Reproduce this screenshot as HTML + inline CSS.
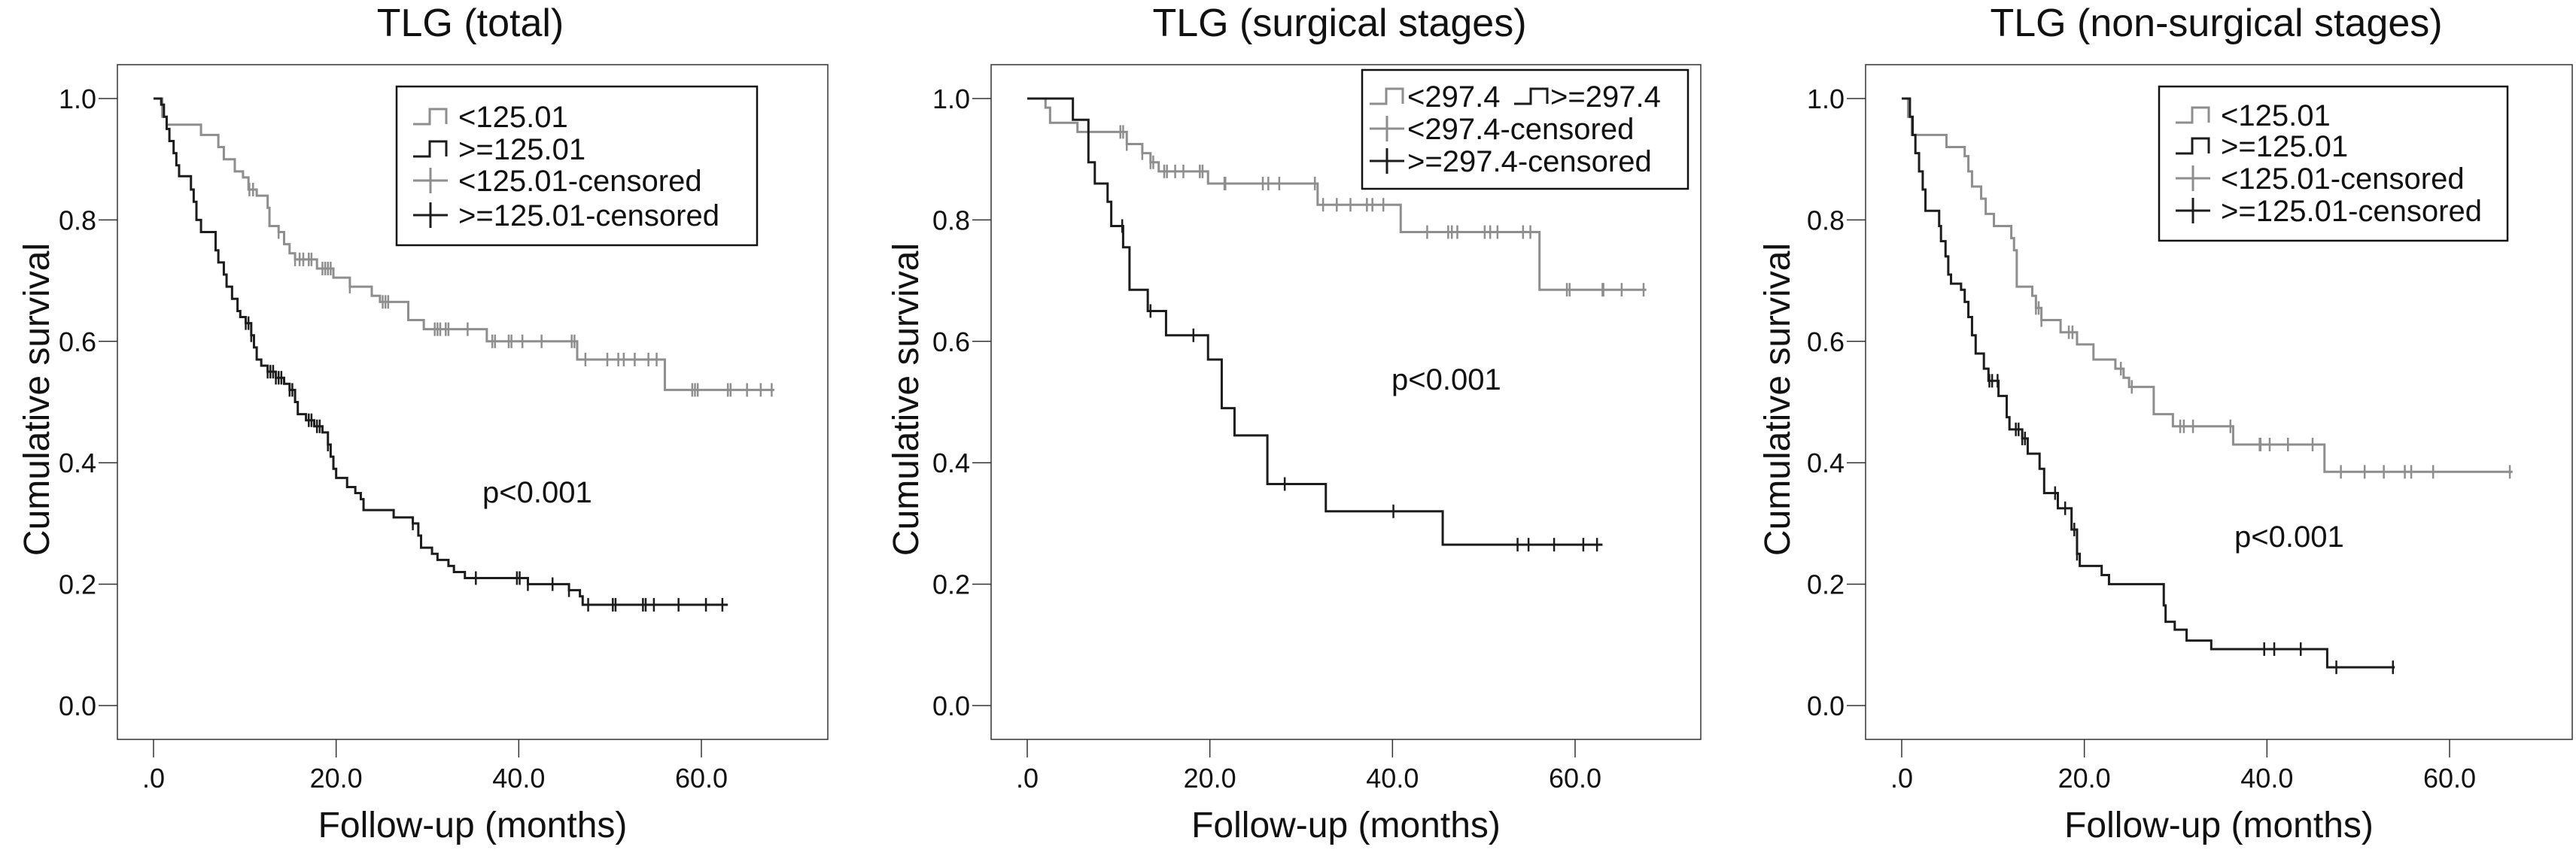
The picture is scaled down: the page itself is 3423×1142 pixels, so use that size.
<!DOCTYPE html>
<html><head><meta charset="utf-8">
<style>
html,body{margin:0;padding:0;background:#fff;}
svg{display:block;font-family:"Liberation Sans",Arial,sans-serif;}
</style></head>
<body>
<svg id="chart" width="3423" height="1142" viewBox="0 0 3423 1142" xmlns="http://www.w3.org/2000/svg"></svg>
<script>
// ---- Panel 1: TLG (total)
const p1LowTimes = [0.96,1.44,5.2,7.1,7.7,8.9,9.8,10.4,11.3,12.5,12.7,13.7,14.3,14.9,15.5,17.9,19.7,21.5,23.9,24.8,27.9,29.6,36.5,46.4,56.0];
const p1LowSurv  = [0.97,0.957,0.94,0.92,0.90,0.88,0.87,0.85,0.84,0.82,0.79,0.78,0.76,0.745,0.735,0.72,0.705,0.69,0.675,0.665,0.635,0.62,0.60,0.57,0.52];
const p1LowEnd = 68.0;
const p1LowCens = [10.5,10.9,13.7,15.5,16.0,16.4,17.0,17.3,18.5,18.8,19.1,19.4,21.5,25.1,25.4,25.7,30.8,31.1,31.4,32.0,32.3,34.4,37.1,37.4,38.9,39.2,40.4,42.5,45.8,46.1,47.3,49.7,50.9,51.5,52.7,54.2,55.1,59.0,59.3,59.6,62.9,63.2,65.0,66.5,67.7];
const p1HighTimes = [0.84,1.14,1.44,1.74,2.2,2.5,2.8,4.1,4.4,4.7,5.2,6.8,7.1,7.7,8.0,8.6,9.2,9.5,10.1,10.7,11.0,11.3,11.8,12.5,13.4,14.3,14.9,15.5,15.8,16.7,17.6,18.5,19.1,19.4,19.7,20.0,21.2,22.1,22.7,23.0,26.3,28.4,29.0,29.3,30.5,31.1,32.3,32.9,34.1,41.0,45.5,46.7,47.0];
const p1HighSurv  = [0.99,0.97,0.95,0.93,0.91,0.89,0.872,0.85,0.83,0.80,0.78,0.75,0.73,0.71,0.69,0.67,0.65,0.64,0.63,0.61,0.59,0.57,0.56,0.55,0.54,0.53,0.52,0.50,0.48,0.47,0.46,0.45,0.43,0.41,0.39,0.375,0.36,0.35,0.34,0.322,0.31,0.30,0.28,0.26,0.25,0.24,0.23,0.22,0.21,0.20,0.19,0.18,0.166];
const p1HighEnd = 62.9;
const p1HighCens = [10.1,10.4,10.7,12.5,12.8,13.1,13.4,13.7,14.0,14.9,15.2,17.0,17.3,17.9,18.2,19.1,28.4,35.3,39.8,40.1,41.0,43.7,45.5,47.6,50.3,50.6,53.6,53.9,54.8,57.5,60.5,62.3];

// ---- Panel 2: TLG (surgical stages)
const p2LowTimes = [2.0,2.5,5.5,10.9,12.6,13.5,14.4,19.8,31.8,40.9,56.1];
const p2LowSurv  = [0.985,0.96,0.945,0.925,0.91,0.895,0.88,0.86,0.825,0.78,0.685];
const p2LowEnd = 67.8;
const p2LowCens = [10.2,10.5,10.9,12.6,13.5,13.8,15.0,15.3,16.2,17.1,18.9,19.2,21.6,21.7,25.8,26.4,27.6,31.5,32.4,33.9,35.4,37.2,37.8,39.0,43.8,46.1,46.5,47.1,50.1,50.7,51.5,54.3,55.1,59.1,59.4,63.0,63.1,65.1,67.5];
const p2HighTimes = [5.0,6.7,7.4,8.8,9.2,10.5,11.2,13.2,15.2,19.8,21.3,22.7,26.3,32.7,45.5];
const p2HighSurv  = [0.965,0.895,0.86,0.83,0.79,0.755,0.685,0.65,0.61,0.57,0.49,0.445,0.365,0.32,0.265];
const p2HighEnd = 63.0;
const p2HighCens = [10.4,13.5,18.2,28.2,40.1,53.7,54.9,57.7,60.9,62.4];

// ---- Panel 3: TLG (non-surgical stages)
const p3LowTimes = [0.7,1.1,4.9,6.9,7.3,7.7,8.7,9.2,10.1,12.0,12.3,12.6,14.3,14.7,15.3,17.4,19.2,21.0,23.4,24.3,24.9,27.6,29.7,36.3,46.3];
const p3LowSurv  = [0.97,0.94,0.92,0.905,0.88,0.855,0.835,0.81,0.79,0.77,0.75,0.69,0.675,0.655,0.635,0.615,0.595,0.57,0.555,0.54,0.525,0.48,0.46,0.43,0.385];
const p3LowEnd = 66.9;
const p3LowCens = [14.7,15.0,15.3,18.3,18.7,24.0,25.2,30.5,30.9,31.9,36.0,39.2,39.3,40.3,42.3,45.0,48.1,50.7,52.8,55.1,55.8,58.2,66.6];
const p3HighTimes = [0.9,1.2,1.5,1.9,2.3,2.6,4.1,4.3,4.8,5.1,5.4,6.5,6.9,7.3,7.7,8.1,9.0,9.5,10.6,11.5,11.8,13.2,13.8,15.1,15.6,17.1,18.6,19.2,19.5,21.9,22.7,28.7,28.9,29.9,31.2,33.9,46.6];
const p3HighSurv  = [0.97,0.94,0.91,0.88,0.85,0.815,0.79,0.765,0.74,0.71,0.695,0.685,0.665,0.64,0.61,0.58,0.555,0.535,0.51,0.475,0.455,0.44,0.415,0.39,0.35,0.325,0.29,0.25,0.23,0.215,0.20,0.165,0.138,0.125,0.107,0.093,0.063];
const p3HighEnd = 54.0;
const p3HighCens = [9.6,9.9,10.5,12.5,12.8,13.2,13.5,16.8,17.9,18.9,19.2,39.7,40.8,43.7,47.6,53.8];

const xTicks = [0,20,40,60];
const xTickLabels = [".0","20.0","40.0","60.0"];
const yTicks = [0,0.2,0.4,0.6,0.8,1.0];
const yTickLabels = ["0.0","0.2","0.4","0.6","0.8","1.0"];

const GRAY = "#8e8e8e", BLACK = "#1c1c1c";
const NS = "http://www.w3.org/2000/svg";
const svg = document.getElementById("chart");

function mk(tag, attrs, parent, text){
  const e = document.createElementNS(NS, tag);
  for (const k in attrs) e.setAttribute(k, attrs[k]);
  if (text !== undefined) e.textContent = text;
  (parent||svg).appendChild(e);
  return e;
}

const panels = [
  {key:"total", title:"TLG (total)", titleX:625, box:[156,86,1100,983], x0:204, x60:932, yTitleX:48,
   low:[p1LowTimes,p1LowSurv,p1LowEnd,p1LowCens], high:[p1HighTimes,p1HighSurv,p1HighEnd,p1HighCens],
   p:[641,668], legend:{box:[527,115,1006,326], rows:[155,198,240,286], labels:["<125.01",">=125.01","<125.01-censored",">=125.01-censored"]}},
  {key:"surgical", title:"TLG (surgical stages)", titleX:1780, box:[1317,86,2260,983], x0:1365, x60:2093, yTitleX:1203,
   low:[p2LowTimes,p2LowSurv,p2LowEnd,p2LowCens], high:[p2HighTimes,p2HighSurv,p2HighEnd,p2HighCens],
   p:[1849,518], legend:{box:[1810,93,2243,251], rows:[128,171,214], labels:["<297.4",">=297.4","<297.4-censored",">=297.4-censored"], compact:true}},
  {key:"nonsurgical", title:"TLG (non-surgical stages)", titleX:2945, box:[2479,86,3418,983], x0:2527, x60:3255, yTitleX:2361,
   low:[p3LowTimes,p3LowSurv,p3LowEnd,p3LowCens], high:[p3HighTimes,p3HighSurv,p3HighEnd,p3HighCens],
   p:[2969,727], legend:{box:[2869,115,3332,320], rows:[153,194,237,280], labels:["<125.01",">=125.01","<125.01-censored",">=125.01-censored"]}}
];

const Y1 = 131, Y0 = 938;

panels.forEach(pn => {
  const g = mk("g", {});
  
  
  const xs = t => pn.x0 + (pn.x60 - pn.x0) * t / 60;
  const ys = s => Y0 + (Y1 - Y0) * s;
  const [bx0,by0,bx1,by1] = pn.box;

  const title = mk("text", {x:pn.titleX, y:48, "font-size":52, "text-anchor":"middle", fill:"#111"}, g, pn.title);
  
  

  const box = mk("rect", {x:bx0, y:by0, width:bx1-bx0, height:by1-by0, fill:"none", stroke:"#333", "stroke-width":1.5}, g);
  
  

  const yAxis = mk("g", {}, g);
  
  
  yTicks.forEach((v,i) => {
    mk("line", {x1:bx0-25, x2:bx0, y1:ys(v), y2:ys(v), stroke:"#333", "stroke-width":1.5}, yAxis);
    const t = mk("text", {x:bx0-28, y:ys(v)+13, "font-size":36, "text-anchor":"end", fill:"#111"}, yAxis, yTickLabels[i]);
    
    
  });
  const xAxis = mk("g", {}, g);
  
  
  xTicks.forEach((v,i) => {
    mk("line", {x1:xs(v), x2:xs(v), y1:by1, y2:by1+24, stroke:"#333", "stroke-width":1.5}, xAxis);
    const t = mk("text", {x:xs(v), y:1047, "font-size":36, "text-anchor":"middle", fill:"#111"}, xAxis, xTickLabels[i]);
    
    
  });
  const xt = mk("text", {x:(bx0+bx1)/2, y:1113, "font-size":48, "text-anchor":"middle", fill:"#111"}, g, "Follow-up (months)");
  
  
  const yt = mk("text", {x:0, y:0, "font-size":48, "text-anchor":"middle", fill:"#111", transform:`translate(${pn.yTitleX+17},531) rotate(-90)`}, g, "Cumulative survival");
  
  

  function curve(series, color, name){
    const [times, surv, end, cens] = series;
    let d = `M${xs(0)},${ys(1)}`;
    for (let i=0;i<times.length;i++){ d += ` H${xs(times[i])} V${ys(surv[i])}`; }
    d += ` H${xs(end)}`;
    const path = mk("path", {d:d, fill:"none", stroke:color, "stroke-width":3}, g);
    
    
    const survAt = t => { let s = 1; for (let i=0;i<times.length;i++){ if (times[i] <= t) s = surv[i]; } return s; };
    cens.forEach(c => {
      const yy = ys(survAt(c));
      const m = mk("line", {x1:xs(c), x2:xs(c), y1:yy-9, y2:yy+9, stroke:color, "stroke-width":2.5}, g);
      
      
    });
  }
  curve(pn.low, GRAY, "low-group");
  curve(pn.high, BLACK, "high-group");

  const pt = mk("text", {x:pn.p[0], y:pn.p[1], "font-size":40, fill:"#111"}, g, "p<0.001");
  
  

  // legend
  const L = pn.legend;
  const lg = mk("g", {}, g);
  
  
  mk("rect", {x:L.box[0], y:L.box[1], width:L.box[2]-L.box[0], height:L.box[3]-L.box[1], fill:"#fff", stroke:"#111", "stroke-width":2.5}, lg);
  const stepSym = (x, y, color) => mk("path", {d:`M${x},${y+10} H${x+22} V${y-10} H${x+44} V${y+10}`, fill:"none", stroke:color, "stroke-width":3}, lg);
  const censSym = (x, y, color) => { mk("line", {x1:x, x2:x+46, y1:y, y2:y, stroke:color, "stroke-width":3}, lg); mk("line", {x1:x+23, x2:x+23, y1:y-17, y2:y+17, stroke:color, "stroke-width":3}, lg); };
  const colors = [GRAY, BLACK, GRAY, BLACK];
  if (!L.compact){
    const sx = L.box[0] + 22;
    L.labels.forEach((lab,i) => {
      const y = L.rows[i];
      if (i < 2) stepSym(sx, y, colors[i]); else censSym(sx, y, colors[i]);
      const t = mk("text", {x:sx+60, y:y+14, "font-size":40, fill:"#111"}, lg, lab);
      
      
    });
  } else {
    const sx = L.box[0] + 10;
    stepSym(sx, L.rows[0], GRAY);
    const t0 = mk("text", {x:sx+50, y:L.rows[0]+14, "font-size":40, fill:"#111"}, lg, L.labels[0]);
    
    
    stepSym(sx+192, L.rows[0], BLACK);
    const t1 = mk("text", {x:sx+240, y:L.rows[0]+14, "font-size":40, fill:"#111"}, lg, L.labels[1]);
    
    
    [2,3].forEach((k,j) => {
      const y = L.rows[j+1];
      censSym(sx, y, colors[k]);
      const t = mk("text", {x:sx+50, y:y+14, "font-size":40, fill:"#111"}, lg, L.labels[k]);
      
      
    });
  }
});
</script>
</body></html>
